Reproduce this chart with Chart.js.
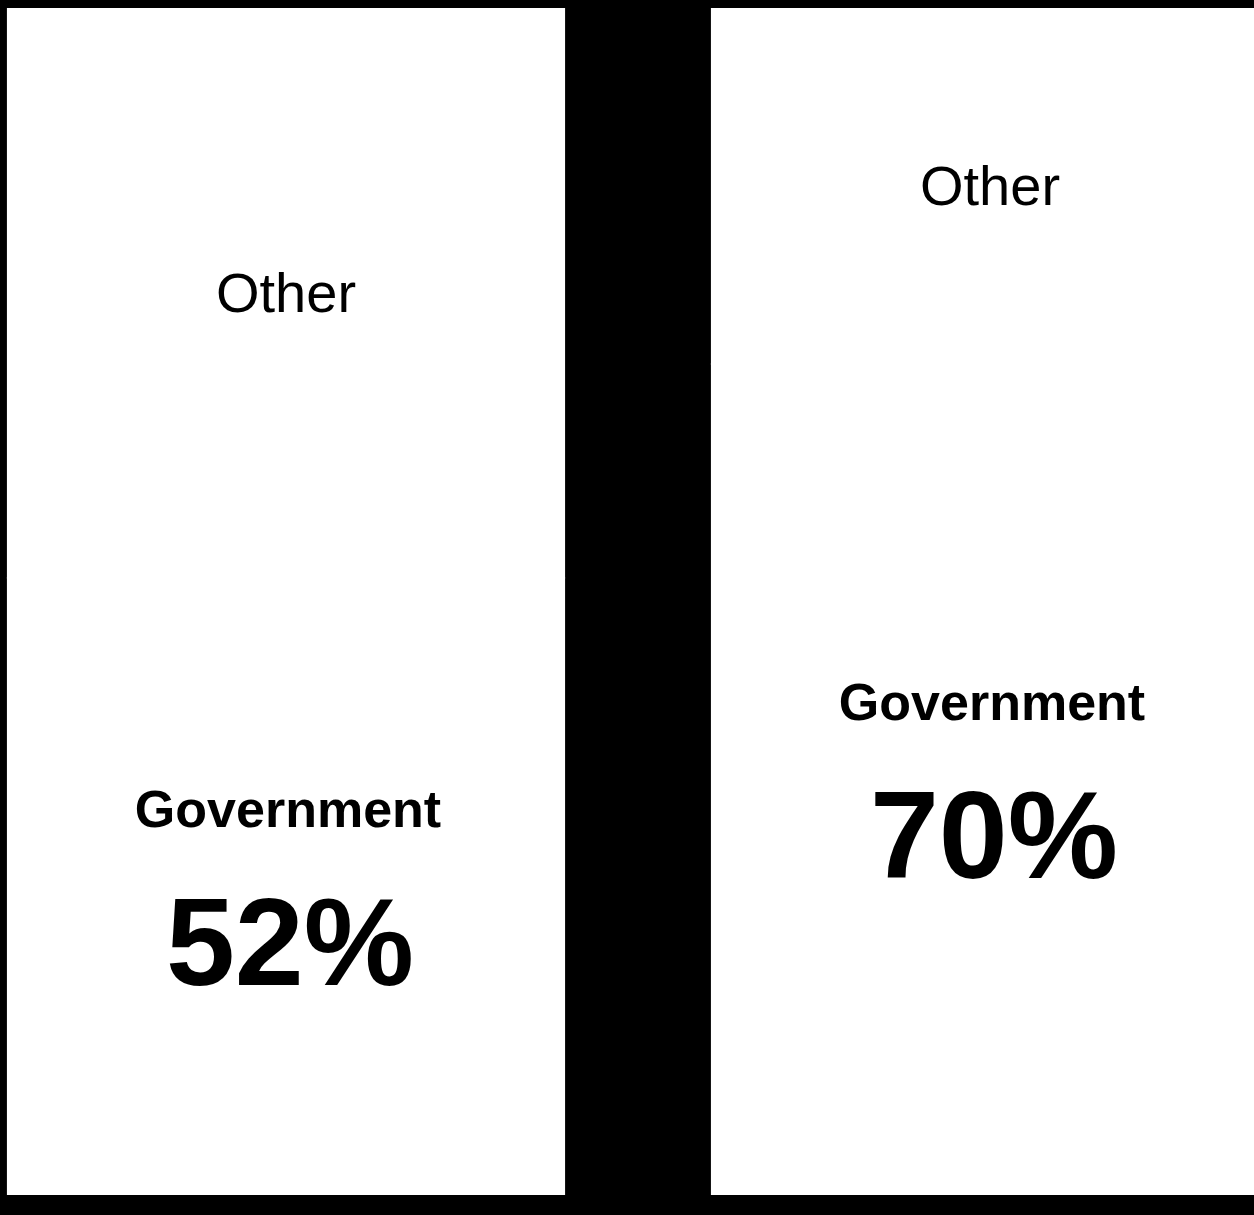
<!DOCTYPE html>
<html>
<head>
<meta charset="utf-8">
<script src="https://cdn.jsdelivr.net/npm/chart.js@4"></script>
<style>
  html, body { margin: 0; padding: 0; background: #000; overflow: hidden; }
  #wrap { position: absolute; left: -66px; top: 0; width: 1408px; height: 1215px; }
</style>
</head>
<body>
<div id="wrap"><canvas id="chartCanvas"></canvas></div>
<script>
// two columns, government share vs the rest
const columns = ["Column 1", "Column 2"];
const government = [52, 70];
const other = [48, 30];
const segmentNames = ["Government", "Other"];

const canvasEl = document.getElementById("chartCanvas");

// writes the names and percentages inside the white blocks
const segmentLabels = {
  id: "segmentLabels",
  afterDatasetsDraw(chart) {
    const ctx = chart.ctx;
    ctx.save();
    ctx.fillStyle = "#000";
    ctx.textAlign = "center";
    ctx.textBaseline = "middle";
    chart.data.datasets.forEach((ds, di) => {
      const meta = chart.getDatasetMeta(di);
      meta.data.forEach((bar, i) => {
        const mid = (bar.y + bar.base) / 2;
        if (ds.label == "Government") {
          ctx.font = "bold 52px 'Liberation Sans', Arial, sans-serif";
          ctx.fillText(ds.label, bar.x + 2, mid - 74);
          ctx.font = "bold 124px 'Liberation Sans', Arial, sans-serif";
          ctx.fillText(ds.data[i] + "%", bar.x + 4, mid + 64);
        } else {
          ctx.font = "56px 'Liberation Sans', Arial, sans-serif";
          ctx.fillText(ds.label, bar.x, mid + 4);
        }
      });
    });
    ctx.restore();
  },
};

var chart = new Chart(canvasEl, {
  type: "bar",
  data: {
    labels: columns,
    datasets: [
      {
        label: segmentNames[0],
        data: government,
        backgroundColor: "#fff",
        borderWidth: 0,
        inflateAmount: 1,
      },
      {
        label: segmentNames[1],
        data: other,
        backgroundColor: "#fff",
        borderWidth: 0,
        inflateAmount: 1,
      },
    ],
  },
  options: {
    responsive: true,
    maintainAspectRatio: false,
    animation: false,
    layout: { padding: { top: 8, bottom: 20, left: 0, right: 0 } },
    datasets: {
      bar: { categoryPercentage: 1, barPercentage: 0.79 },
    },
    plugins: {
      legend: { display: false },
      tooltip: { enabled: false },
    },
    scales: {
      x: { stacked: true, display: false },
      y: { stacked: true, display: false, min: 0, max: 100 },
    },
  },
  plugins: [segmentLabels],
});
</script>
</body>
</html>
